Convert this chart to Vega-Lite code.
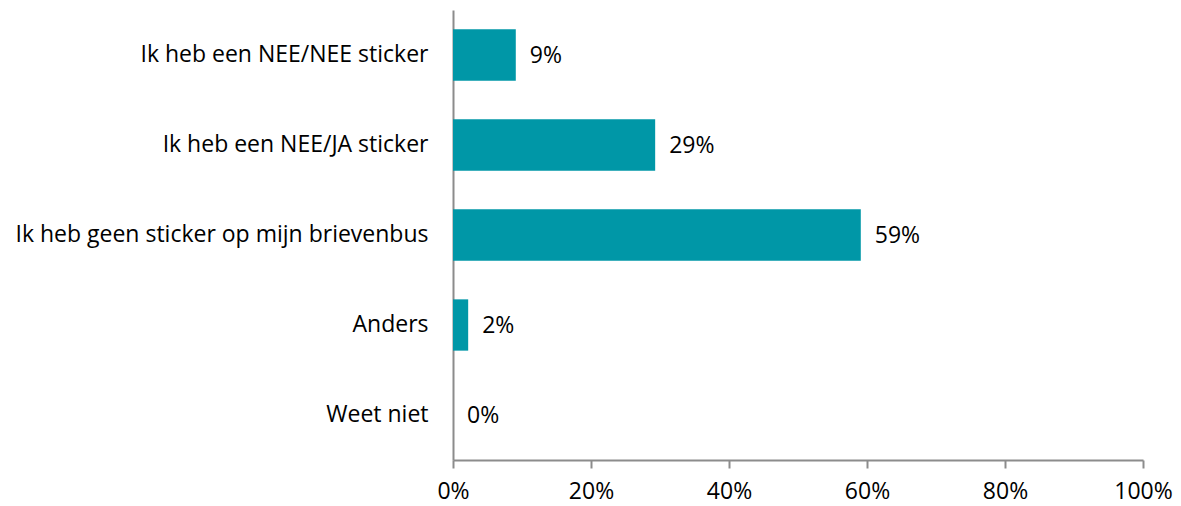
{
  "$schema": "https://vega.github.io/schema/vega-lite/v6.json",
  "autosize": "none",
  "width": 690,
  "height": 450,
  "padding": {"left": 453, "top": 10, "right": 38, "bottom": 46},
  "background": "white",
  "config": {
    "view": {"stroke": null},
    "font": "Open Sans",
    "axis": {"labelFont": "Open Sans", "labelColor": "#000000", "labelFontSize": 23}
  },
  "data": {
    "values": [
      {"categorie": "Ik heb een NEE/NEE sticker", "waarde": 0.091, "label": "9%"},
      {"categorie": "Ik heb een NEE/JA sticker", "waarde": 0.293, "label": "29%"},
      {"categorie": "Ik heb geen sticker op mijn brievenbus", "waarde": 0.591, "label": "59%"},
      {"categorie": "Anders", "waarde": 0.022, "label": "2%"},
      {"categorie": "Weet niet", "waarde": 0.0, "label": "0%"}
    ]
  },
  "encoding": {
    "y": {
      "field": "categorie",
      "type": "nominal",
      "sort": null,
      "title": null,
      "scale": {"paddingInner": 0.43, "paddingOuter": 0.215},
      "axis": {"ticks": false, "labelPadding": 25, "domainColor": "#8c8c8c", "domainWidth": 2, "labelLimit": 500}
    },
    "x": {
      "field": "waarde",
      "type": "quantitative",
      "title": null,
      "scale": {"domain": [0, 1], "nice": false},
      "axis": {"format": ".0%", "values": [0, 0.2, 0.4, 0.6, 0.8, 1], "grid": false, "labelFlush": false, "tickSize": 8, "tickColor": "#8c8c8c", "tickWidth": 2, "domainColor": "#8c8c8c", "domainWidth": 2, "labelPadding": 12}
    }
  },
  "layer": [
    {"mark": {"type": "bar", "color": "#0097A7"}},
    {"mark": {"type": "text", "align": "left", "dx": 14, "dy": 1, "fontSize": 23, "font": "Open Sans", "color": "#000000"}, "encoding": {"text": {"field": "label"}}}
  ]
}
